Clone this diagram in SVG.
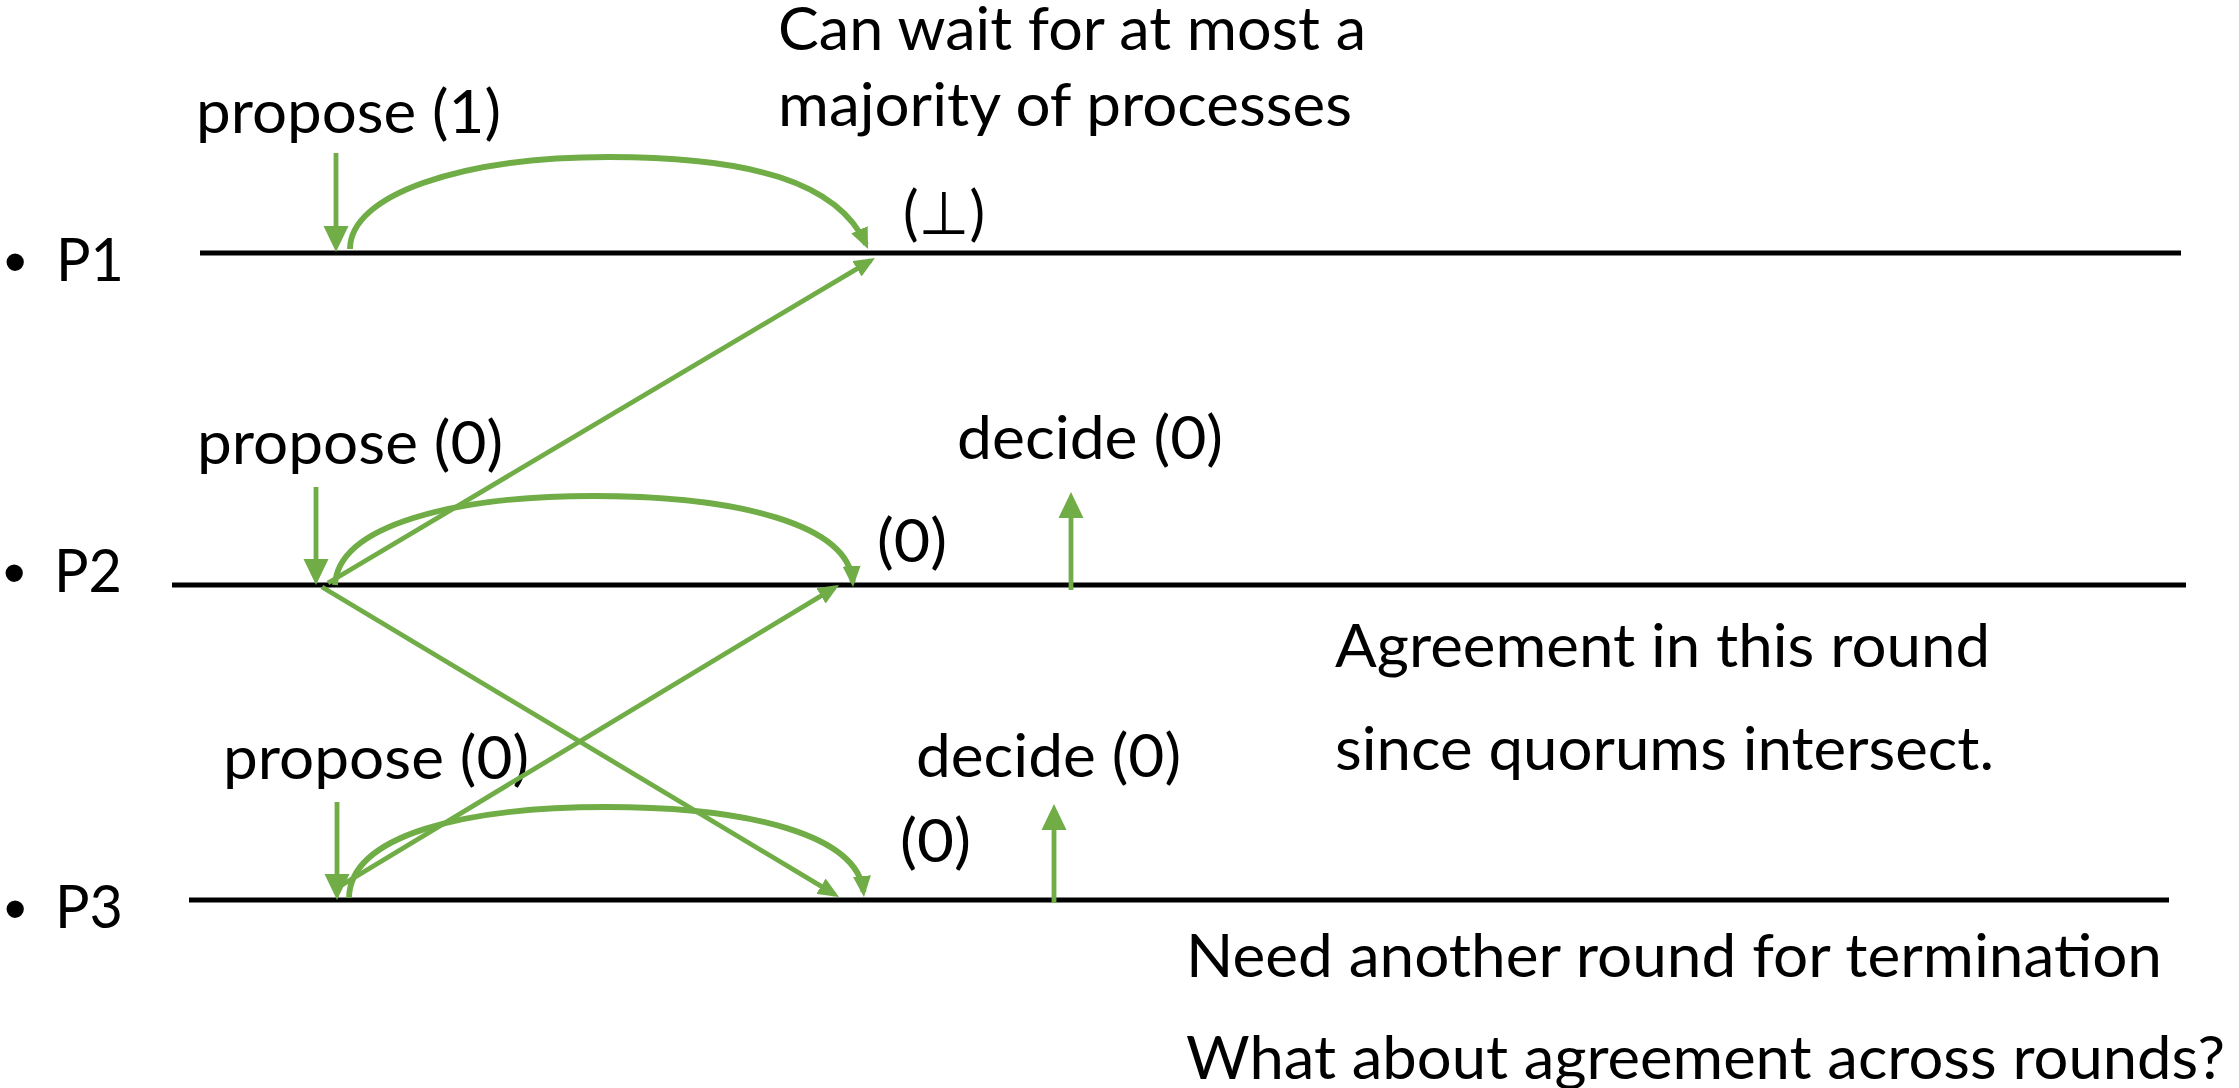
<svg xmlns="http://www.w3.org/2000/svg" width="2239" height="1088" viewBox="0 0 2239 1088">
<style>
.t{font-family:Lato,"Noto Sans","DejaVu Sans",sans-serif;font-size:60px;fill:#000}
.b{font-family:"Liberation Sans",Arial,sans-serif;font-size:64px;fill:#000}
.tl{stroke:#000;stroke-width:5;fill:none}
.g{stroke:#70AD47;stroke-width:4.8;fill:none}
.arc{stroke:#70AD47;stroke-width:5.8;fill:none}
</style>
<defs>
<marker id="ah" markerUnits="userSpaceOnUse" markerWidth="26" markerHeight="26" viewBox="0 0 26 26" refX="20" refY="13" orient="auto"><path d="M0,0.5 L26,13 L0,25.5 Z" fill="#70AD47"/></marker>
<marker id="as" markerUnits="userSpaceOnUse" markerWidth="21" markerHeight="18" viewBox="0 0 21 18" refX="16" refY="9" orient="auto"><path d="M0,0 L21,9 L0,18 Z" fill="#70AD47"/></marker>
</defs>
<rect width="2239" height="1088" fill="#fff"/>

<g id="p1">
<line class="tl" x1="200" y1="253" x2="2181" y2="253"/>
<text class="b" x="4" y="284">•</text>
<text class="t" x="56" y="281" textLength="68" lengthAdjust="spacingAndGlyphs">P1</text>
</g>
<g id="p2">
<line class="tl" x1="172" y1="585" x2="2186" y2="585"/>
<text class="b" x="3" y="595">•</text>
<text class="t" x="54" y="592" textLength="68" lengthAdjust="spacingAndGlyphs">P2</text>
</g>
<g id="p3">
<line class="tl" x1="189" y1="900" x2="2169" y2="900"/>
<text class="b" x="4" y="931">•</text>
<text class="t" x="55" y="928" textLength="68" lengthAdjust="spacingAndGlyphs">P3</text>
</g>

<g id="note-wait">
<text class="t" x="778" y="50" textLength="588" lengthAdjust="spacingAndGlyphs">Can wait for at most a</text>
<text class="t" x="778" y="126" textLength="574" lengthAdjust="spacingAndGlyphs">majority of processes</text>
</g>
<g id="propose1"><text class="t" x="196" y="133" textLength="305" lengthAdjust="spacingAndGlyphs">propose (1)</text></g>
<g id="recv1"><text class="t" x="903" y="234" textLength="82" lengthAdjust="spacingAndGlyphs">(⊥)</text></g>
<g id="propose2"><text class="t" x="197" y="464" textLength="306" lengthAdjust="spacingAndGlyphs">propose (0)</text></g>
<g id="decide2"><text class="t" x="957" y="459" textLength="266" lengthAdjust="spacingAndGlyphs">decide (0)</text></g>
<g id="recv2"><text class="t" x="877" y="562" textLength="70" lengthAdjust="spacingAndGlyphs">(0)</text></g>
<g id="note-agree">
<text class="t" x="1335" y="667" textLength="655" lengthAdjust="spacingAndGlyphs">Agreement in this round</text>
<text class="t" x="1335" y="770" textLength="659" lengthAdjust="spacingAndGlyphs">since quorums intersect.</text>
</g>
<g id="decide3"><text class="t" x="916" y="777" textLength="265" lengthAdjust="spacingAndGlyphs">decide (0)</text></g>
<g id="propose3"><text class="t" x="223" y="779" textLength="306" lengthAdjust="spacingAndGlyphs">propose (0)</text></g>
<g id="recv3"><text class="t" x="900" y="862" textLength="71" lengthAdjust="spacingAndGlyphs">(0)</text></g>
<g id="note-term">
<text class="t" x="1186" y="977" textLength="976" lengthAdjust="spacingAndGlyphs">Need another round for termination</text>
<text class="t" x="1186" y="1079" textLength="1039" lengthAdjust="spacingAndGlyphs">What about agreement across rounds?</text>
</g>

<g id="connectors">
<line class="g" x1="336" y1="153" x2="336" y2="246" marker-end="url(#ah)"/>
<line class="g" x1="316" y1="487" x2="316" y2="579" marker-end="url(#ah)"/>
<line class="g" x1="337" y1="802" x2="337" y2="894" marker-end="url(#ah)"/>
<line class="g" x1="1071" y1="590" x2="1071" y2="498" marker-end="url(#ah)"/>
<line class="g" x1="1054" y1="903" x2="1054" y2="810" marker-end="url(#ah)"/>
<path class="arc" d="M350,249 C350,195 460,157 609,157 C750,157 838,182 866,244.4" marker-end="url(#as)"/>
<path class="arc" d="M335,585 C338,525 455,496 593,496 C740,496 849,525 852.7,582" marker-end="url(#as)"/>
<path class="arc" d="M349,898 C350,835 465,807 606,807 C750,807 858,835 863.5,892" marker-end="url(#as)"/>
<line class="g" x1="328" y1="583" x2="870.7" y2="260.6" marker-end="url(#as)"/>
<line class="g" x1="322" y1="587" x2="834.7" y2="894.4" marker-end="url(#as)"/>
<line class="g" x1="342" y1="885" x2="834.7" y2="587.6" marker-end="url(#as)"/>
</g>
</svg>
